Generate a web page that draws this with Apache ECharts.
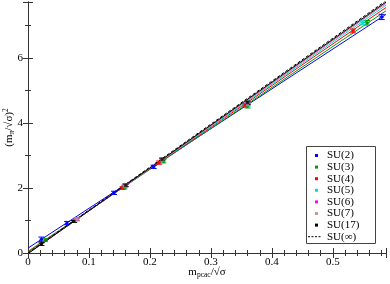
<!DOCTYPE html>
<html><head><meta charset="utf-8">
<script src="https://cdn.jsdelivr.net/npm/echarts@6/dist/echarts.min.js"></script>
<style>html,body{margin:0;padding:0;background:#fff}#c{width:390px;height:284px}</style>
</head><body><div id="c"></div>
<script>
// ---- data ----
const names = ['SU(2)','SU(3)','SU(4)','SU(5)','SU(6)','SU(7)','SU(17)'];
const colors = ['#0000ff','#009a00','#ff0000','#00e0d0','#ff00ff','#c89b8f','#000000'];
// points: [x, y, xerr, yerr]
const su2 = [[0.022,0.42,0.003,0.07],[0.064,0.92,0.002,0.05],[0.141,1.85,0.003,0.05],[0.206,2.65,0.003,0.05],[0.580,7.26,0.004,0.08]];
const su3 = [[0.028,0.40,0.002,0.04],[0.076,0.98,0.002,0.04],[0.158,2.02,0.003,0.05],[0.222,2.82,0.003,0.05],[0.360,4.52,0.004,0.06],[0.556,7.08,0.004,0.07]];
const su4 = [[0.080,1.03,0.002,0.04],[0.155,2.00,0.003,0.04],[0.215,2.78,0.003,0.05],[0.356,4.54,0.003,0.05],[0.533,6.83,0.003,0.06]];
const su5 = [[0.080,1.04,0.002,0.04],[0.158,2.05,0.003,0.04],[0.220,2.85,0.003,0.05],[0.360,4.56,0.003,0.05],[0.549,7.08,0.004,0.06]];
const su6 = [[0.080,1.04,0.002,0.03],[0.160,2.08,0.003,0.04],[0.220,2.86,0.003,0.04],[0.360,4.60,0.003,0.05]];
const su7 = [[0.080,1.04,0.002,0.03],[0.160,2.08,0.003,0.04],[0.220,2.87,0.003,0.04],[0.360,4.60,0.003,0.05]];
const su17 = [[0.022,0.27,0.002,0.04],[0.075,0.97,0.002,0.03],[0.160,2.08,0.003,0.04],[0.220,2.88,0.003,0.04],[0.360,4.62,0.003,0.05]];
// fit lines: y at x = 0 and at x = 0.587
const fitX = [0, 0.587];
const fit2 = [0.15, 7.34];
const fit3 = [0.05, 7.45];
const fit4 = [0.02, 7.55];
const fit5 = [0.00, 7.62];
const fit6 = [-0.01, 7.68];
const fit7 = [-0.01, 7.69];
const fit17 = [-0.02, 7.72];
const fitInf = [0.00, 7.76];
const infName = 'SU(∞)';
const xTickLabels = ['0','0.1','0.2','0.3','0.4','0.5'];
const yTickLabels = ['0','2','4','6'];
// -------------------------------------
const points = [su2,su3,su4,su5,su6,su7,su17];
const fits = [fit2,fit3,fit4,fit5,fit6,fit7,fit17];
const FONT = 'Liberation Serif';

const chart = echarts.init(document.getElementById('c'));
const series = [];
fits.forEach((f,i)=>{
  series.push({type:'line', name:'fit'+i, data:fitX.map((x,k)=>[x,f[k]]), symbol:'none',
    lineStyle:{color:colors[i], width:1}, clip:true, silent:true, z:2, animation:false});
});
series.push({type:'line', name:infName, data:fitX.map((x,k)=>[x,fitInf[k]]), symbol:'none',
  lineStyle:{color:'#000', width:1, type:[3,2]}, itemStyle:{color:'#000'}, clip:true, z:3, animation:false});
points.forEach((p,i)=>{
  series.push({type:'custom', name:'err'+i, data:p, z:4, animation:false, clip:true,
    renderItem:(params, api)=>{
      const x=api.value(0), y=api.value(1), ex=api.value(2), ey=api.value(3);
      const c=api.coord([x,y]), t=api.coord([x,y+ey]), b=api.coord([x,y-ey]);
      const l=api.coord([x-ex,y]), r=api.coord([x+ex,y]);
      const st={stroke:colors[i], lineWidth:1};
      return {type:'group', children:[
        {type:'line', shape:{x1:c[0],y1:t[1],x2:c[0],y2:b[1]}, style:st},
        {type:'line', shape:{x1:c[0]-3,y1:t[1],x2:c[0]+3,y2:t[1]}, style:st},
        {type:'line', shape:{x1:c[0]-3,y1:b[1],x2:c[0]+3,y2:b[1]}, style:st},
        {type:'line', shape:{x1:l[0],y1:c[1],x2:r[0],y2:c[1]}, style:st}
      ]};
    }});
  series.push({type:'scatter', name:names[i], data:p.map(d=>[d[0],d[1]]), symbol:'rect', symbolSize:3,
    itemStyle:{color:colors[i]}, z:5, animation:false});
});

// legend drawn as a boxed list
const LX=306, LY=146, LW=69, LH=97, STEP=11.6, Y0=LY+9.5;
const legendEls = [{type:'rect', shape:{x:LX+0.5, y:LY+0.5, width:LW, height:LH}, style:{fill:'#fff', stroke:'#444', lineWidth:1}, z:100}];
names.forEach((n,i)=>{
  const yc = Y0 + i*STEP;
  legendEls.push({type:'rect', shape:{x:LX+9, y:yc-1.5, width:3, height:3}, style:{fill:colors[i]}, z:101});
  legendEls.push({type:'text', x:LX+21, y:yc, style:{text:n, font:'11px "Liberation Serif"', fill:'#000', verticalAlign:'middle', align:'left'}, z:101});
});
{
  const yc = Y0 + names.length*STEP;
  legendEls.push({type:'line', shape:{x1:LX+2, y1:yc, x2:LX+15, y2:yc}, style:{stroke:'#000', lineWidth:1, lineDash:[2,1.5]}, z:101});
  legendEls.push({type:'text', x:LX+21, y:yc, style:{text:infName, font:'11px "Liberation Serif"', fill:'#000', verticalAlign:'middle', align:'left'}, z:101});
}

const tickStyle = {lineStyle:{color:'#333', width:1}};
chart.setOption({
  animation:false,
  grid:{left:28, right:4, top:2, bottom:31, containLabel:false, outerBoundsMode:'none'},
  graphic:legendEls,
  xAxis:[{
    type:'value', min:0, max:0.587, interval:0.1, position:'bottom',
    name:'{a|m}{s|pcac}{a|/√σ}', nameLocation:'middle', nameGap:12, nameMoveOverlap:false,
    nameTextStyle:{rich:{a:{fontFamily:FONT,fontSize:11,color:'#000'}, s:{fontFamily:FONT,fontSize:7.5,color:'#000',padding:[6,0,0,0]}}},
    axisLine:{show:true, lineStyle:{color:'#333', width:1}},
    axisTick:{show:true, inside:true, length:5, ...tickStyle},
    minorTick:{show:true, splitNumber:5, length:3, lineStyle:{color:'#333'}},
    axisLabel:{fontFamily:FONT, fontSize:11, color:'#000', margin:4, showMaxLabel:false,
      formatter:(v)=>{const i=Math.round(v*10); return Math.abs(v*10-i)<1e-6 && xTickLabels[i]!==undefined ? xTickLabels[i] : '';}},
    splitLine:{show:false}
  },{
    type:'value', min:0, max:0.587, interval:0.1, position:'top',
    axisLine:{show:true, lineStyle:{color:'#333', width:1}},
    axisTick:{show:true, inside:true, length:5, ...tickStyle},
    minorTick:{show:true, splitNumber:5, length:3, lineStyle:{color:'#333'}},
    axisLabel:{show:false}, splitLine:{show:false}
  }],
  yAxis:[{
    type:'value', min:0, max:7.72, interval:2, position:'left',
    name:'{a|(m}{s|π}{a|/√σ)}{p|2}', nameLocation:'middle', nameGap:11, nameRotate:90, nameMoveOverlap:false,
    nameTextStyle:{rich:{a:{fontFamily:FONT,fontSize:11,color:'#000'}, s:{fontFamily:FONT,fontSize:7.5,color:'#000',padding:[6,0,0,0]}, p:{fontFamily:FONT,fontSize:7.5,color:'#000',padding:[0,0,7,0]}}},
    axisLine:{show:true, lineStyle:{color:'#333', width:1}},
    axisTick:{show:true, inside:true, length:5, ...tickStyle},
    minorTick:{show:true, splitNumber:2, length:3, lineStyle:{color:'#333'}},
    axisLabel:{fontFamily:FONT, fontSize:11, color:'#000', margin:5, showMaxLabel:false,
      formatter:(v)=>{const i=Math.round(v/2); return Math.abs(v/2-i)<1e-6 && yTickLabels[i]!==undefined ? yTickLabels[i] : '';}},
    splitLine:{show:false}
  },{
    type:'value', min:0, max:7.72, interval:2, position:'right',
    axisLine:{show:true, lineStyle:{color:'#333', width:1}},
    axisTick:{show:true, inside:true, length:5, ...tickStyle},
    minorTick:{show:true, splitNumber:2, length:3, lineStyle:{color:'#333'}},
    axisLabel:{show:false}, splitLine:{show:false}
  }],
  series
});
</script></body></html>
